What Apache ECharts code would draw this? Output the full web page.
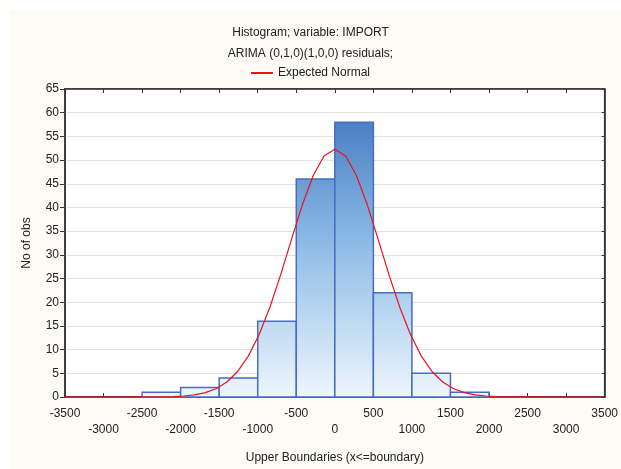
<!DOCTYPE html>
<html>
<head>
<meta charset="utf-8">
<script src="https://cdn.jsdelivr.net/npm/echarts@6/dist/echarts.min.js"></script>
<style>html,body{margin:0;padding:0;background:#fff;}#c{width:621px;height:469px;}</style>
</head>
<body>
<div id="c"></div>
<script>
// Histogram bins (upper boundaries x<=boundary)
const binLower = [-2500, -2000, -1500, -1000, -500, 0, 500, 1000, 1500];
const binUpper = [-2000, -1500, -1000, -500, 0, 500, 1000, 1500, 2000];
const counts   = [1, 2, 4, 16, 46, 58, 22, 5, 1];

// Expected normal curve
const curveX = [-3500,-3360,-3220,-3080,-2940,-2800,-2660,-2520,-2380,-2240,-2100,-1960,-1820,-1680,-1540,-1400,-1260,-1120,-980,-840,-700,-560,-420,-280,-140,
  0,140,280,420,560,700,840,980,1120,1260,1400,1540,1680,1820,1960,2100,2240,2380,2520,2660,2800,2940,3080,3220,3360,3500];
const curveY = [0,0,0,0,0,0,0,0.006,0.016,0.04,0.095,0.21,0.46,0.92,1.75,3.16,5.39,8.68,13.23,19.05,25.94,33.38,40.63,46.75,50.85,
  52.3,50.85,46.75,40.63,33.38,25.94,19.05,13.23,8.68,5.39,3.16,1.75,0.92,0.46,0.21,0.095,0.04,0.016,0.006,0,0,0,0,0,0,0];

const titleLines = ['Histogram; variable: IMPORT', 'ARIMA (0,1,0)(1,0,0) residuals;'];
const seriesName = 'Expected Normal';
const xName = 'Upper Boundaries (x<=boundary)';
const yName = 'No of obs';

const chart = echarts.init(document.getElementById('c'), null, {renderer: 'canvas'});
const txt = '#222';
const font = 'Liberation Sans, Arial, sans-serif';

const option = {
  backgroundColor: '#ffffff',
  animation: false,
  textStyle: {fontFamily: font},
  graphic: [{
    type: 'rect', left: 10, top: 10, z: -10,
    shape: {width: 611, height: 459},
    style: {fill: '#fdfbf5'}
  }],
  title: {
    text: titleLines.join('\n'),
    left: 'center', top: 17,
    textStyle: {fontSize: 12, fontWeight: 'normal', color: txt, lineHeight: 21, fontFamily: font}
  },
  legend: {
    top: 62, left: 'center',
    itemWidth: 22, itemHeight: 2, icon: 'rect',
    textStyle: {fontSize: 12, color: txt, fontFamily: font},
    data: [{name: seriesName}]
  },
  grid: {
    left: 65, right: 11, top: 89, bottom: 66,
    show: true, backgroundColor: '#ffffff', borderColor: '#333', borderWidth: 1.5
  },
  xAxis: [{
    type: 'value', min: -3500, max: 3500, interval: 500, position: 'bottom',
    name: xName, nameLocation: 'middle', nameGap: 55,
    nameTextStyle: {fontSize: 12, color: txt, fontFamily: font},
    axisLine: {show: true, onZero: false, lineStyle: {color: '#333', width: 1.5}},
    axisTick: {show: true, inside: true, length: 4, lineStyle: {color: '#333'}},
    splitLine: {show: false},
    axisLabel: {
      fontSize: 12, color: txt, margin: 9, lineHeight: 16, fontFamily: font,
      showMinLabel: true, showMaxLabel: true,
      formatter: v => (Math.round(v / 500) % 2 === 0) ? '\n' + v : String(v)
    }
  }, {
    type: 'value', min: -3500, max: 3500, interval: 500, position: 'top',
    axisLine: {show: true, onZero: false, lineStyle: {color: '#333', width: 1.5}},
    axisTick: {show: true, inside: true, length: 4, lineStyle: {color: '#333'}},
    axisLabel: {show: false}, splitLine: {show: false}
  }],
  yAxis: [{
    type: 'value', min: 0, max: 65, interval: 5, position: 'left',
    name: yName, nameLocation: 'middle', nameGap: 32,
    nameTextStyle: {fontSize: 12, color: txt, fontFamily: font},
    axisLine: {show: true, onZero: false, lineStyle: {color: '#333', width: 1.5}},
    axisTick: {show: true, inside: false, length: 5, lineStyle: {color: '#333'}},
    axisLabel: {fontSize: 12, color: txt, margin: 6, fontFamily: font},
    splitLine: {show: true, lineStyle: {color: '#e2e2e2', width: 1}}
  }, {
    type: 'value', min: 0, max: 65, interval: 5, position: 'right',
    axisLine: {show: true, onZero: false, lineStyle: {color: '#333', width: 1.5}},
    axisTick: {show: true, inside: true, length: 3, lineStyle: {color: '#333'}},
    axisLabel: {show: false}, splitLine: {show: false}
  }],
  series: [{
    type: 'custom', name: 'Histogram',
    xAxisIndex: 0, yAxisIndex: 0,
    data: counts.map((c, i) => [binLower[i], binUpper[i], c]),
    renderItem: function (params, api) {
      const p0 = api.coord([api.value(0), 0]);
      const p1 = api.coord([api.value(1), api.value(2)]);
      const cs = params.coordSys;
      return {
        type: 'rect',
        shape: {x: p0[0], y: p1[1], width: p1[0] - p0[0], height: p0[1] - p1[1]},
        style: {
          fill: new echarts.graphic.LinearGradient(0, cs.y, 0, cs.y + cs.height, [
            {offset: 0, color: '#3a6fbb'},
            {offset: 0.5, color: '#8dbbe6'},
            {offset: 1, color: '#eef6fd'}
          ], true),
          stroke: '#4a6cc0', lineWidth: 1.5
        }
      };
    },
    z: 2
  }, {
    type: 'line', name: seriesName,
    xAxisIndex: 0, yAxisIndex: 0,
    data: curveX.map((x, i) => [x, curveY[i]]),
    showSymbol: false, symbol: 'none',
    lineStyle: {color: '#e8141e', width: 1.2},
    itemStyle: {color: '#e8141e'},
    z: 5
  }]
};
chart.setOption(option);
</script>
</body>
</html>
